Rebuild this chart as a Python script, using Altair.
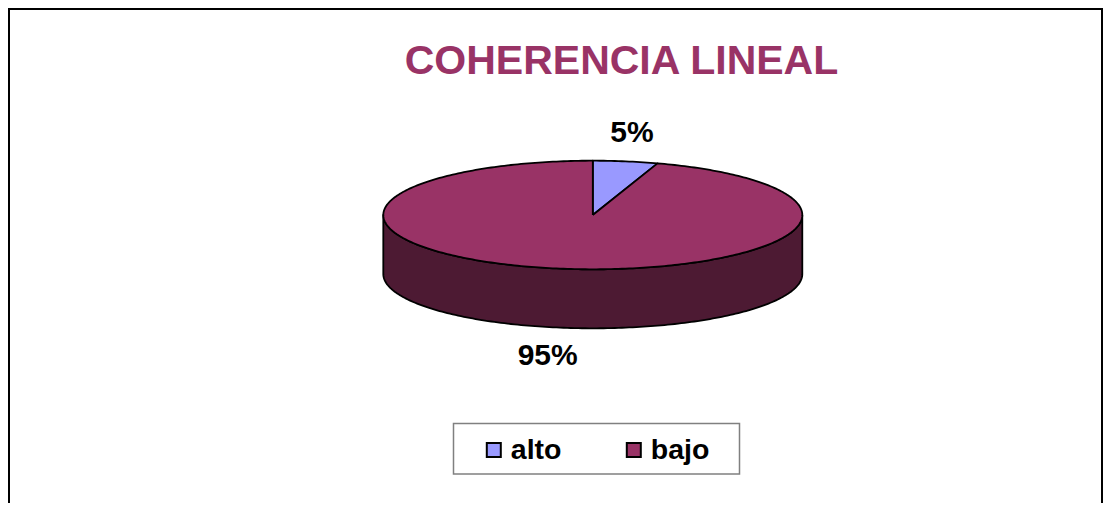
import altair as alt
import numpy as np
import pandas as pd

# ---- data ----
categories = ["alto", "bajo"]
values = [5, 95]
pct_labels = ["5%", "95%"]
title_text = "COHERENCIA LINEAL"

# ---- styles / layout ----
top_colors = ["#9999FF", "#993366"]
side_colors = ["#4D4D80", "#4D1A33"]
FONT = "Liberation Sans"
W, H = 1095, 495
CX, CY, RX, RY, DEPTH = 584.8, 207.0, 209.5, 54.3, 59.0
LX, LY = 60.0, 28.7

total = float(sum(values))
fracs = [v / total for v in values]
starts = np.cumsum([0.0] + fracs[:-1]) * 360.0
ends = starts + np.array(fracs) * 360.0


def ex(a):
    return CX + RX * np.sin(np.radians(a))


def ey(a):
    return CY - RY * np.cos(np.radians(a))


top_rows, side_rows, label_rows = [], [], []
for cat, s, e, lab in zip(categories, starts, ends, pct_labels):
    n = max(int(np.ceil(e - s)), 2)
    angs = np.linspace(s, e, n + 1)
    pts = [(CX, CY)] + [(ex(a), ey(a)) for a in angs] + [(CX, CY)]
    for i, (x, y) in enumerate(pts):
        top_rows.append({"cat": cat, "i": i, "x": x, "y": y})
    lo, hi = max(s, 90.0), min(e, 270.0)
    if hi > lo:
        sa = np.linspace(lo, hi, int(np.ceil(hi - lo)) + 1)
        spts = [(ex(a), ey(a)) for a in sa] + [(ex(a), ey(a) + DEPTH) for a in sa[::-1]]
        spts.append(spts[0])
        for i, (x, y) in enumerate(spts):
            side_rows.append({"cat": cat, "i": i, "x": x, "y": y})
    m = (s + e) / 2.0
    lx = CX + (RX + LX) * np.sin(np.radians(m))
    ly = CY - (RY + LY) * np.cos(np.radians(m)) + (DEPTH if np.cos(np.radians(m)) < 0 else 0)
    label_rows.append({"cat": cat, "label": lab, "x": lx, "y": ly})

top_df = pd.DataFrame(top_rows)
side_df = pd.DataFrame(side_rows)
label_df = pd.DataFrame(label_rows)
legend_df = pd.DataFrame({"cat": categories})

xs = alt.Scale(domain=[0, W], nice=False, zero=False)
ys = alt.Scale(domain=[H, 0], nice=False, zero=False)
X = lambda f: alt.X(f, type="quantitative", scale=xs, axis=None)
Y = lambda f: alt.Y(f, type="quantitative", scale=ys, axis=None)

one = alt.Data(values=[{}])

side = alt.Chart(side_df).mark_line(stroke="black", strokeWidth=1.8, strokeJoin="round",
                                    interpolate="linear").encode(
    x=X("x"), y=Y("y"),
    fill=alt.Fill("cat:N", scale=alt.Scale(domain=categories, range=side_colors), legend=None),
    detail="cat:N",
    order=alt.Order("i:Q"),
)

top = alt.Chart(top_df).mark_line(stroke="black", strokeWidth=1.8, strokeJoin="round",
                                  interpolate="linear").encode(
    x=X("x"), y=Y("y"),
    fill=alt.Fill("cat:N", scale=alt.Scale(domain=categories, range=top_colors), legend=None),
    detail="cat:N",
    order=alt.Order("i:Q"),
)

labels = alt.Chart(label_df).mark_text(
    font=FONT, fontWeight="bold", fontSize=30, color="black", align="center", baseline="middle",
    dx=-3
).encode(x=X("x"), y=Y("y"), text="label:N")

title = alt.Chart(one).mark_text(
    text=title_text, font=FONT, fontWeight="bold", fontSize=41, color="#993366",
    align="center", baseline="alphabetic"
).encode(x=alt.value(613.5), y=alt.value(66))

legend_box = alt.Chart(one).mark_rect(fill="white", stroke="#808080", strokeWidth=1.5).encode(
    x=alt.value(445.5), x2=alt.value(731.5), y=alt.value(415.5), y2=alt.value(466)
)

leg_scale = alt.Scale(domain=categories, range=[485.8, 625.8], padding=0)
legend_sym = alt.Chart(legend_df).mark_square(size=196, stroke="black", strokeWidth=2, opacity=1).encode(
    x=alt.X("cat:N", scale=leg_scale, axis=None),
    y=alt.value(442),
    fill=alt.Fill("cat:N", scale=alt.Scale(domain=categories, range=top_colors), legend=None),
)
legend_txt = alt.Chart(legend_df).mark_text(
    font=FONT, fontWeight="bold", fontSize=28.5, color="black", align="left", baseline="alphabetic", dx=17
).encode(
    x=alt.X("cat:N", scale=leg_scale, axis=None),
    y=alt.value(451),
    text="cat:N",
)

frame_l = alt.Chart(one).mark_rule(color="black", strokeWidth=2).encode(
    x=alt.value(1), y=alt.value(0), y2=alt.value(H))
frame_t = alt.Chart(one).mark_rule(color="black", strokeWidth=2).encode(
    x=alt.value(0), x2=alt.value(1095), y=alt.value(1))
frame_r = alt.Chart(one).mark_rule(color="black", strokeWidth=2).encode(
    x=alt.value(1094), y=alt.value(0), y2=alt.value(H))

chart = alt.layer(
    side, top, labels, title, legend_box, legend_sym, legend_txt, frame_l, frame_t, frame_r
).resolve_scale(x="independent", fill="independent").properties(
    width=W, height=H, padding=0, autosize=alt.AutoSizeParams(type="none"), background="white"
).configure_view(stroke=None)

chart.save("out.html", embed_options={"renderer": "svg", "actions": False})
